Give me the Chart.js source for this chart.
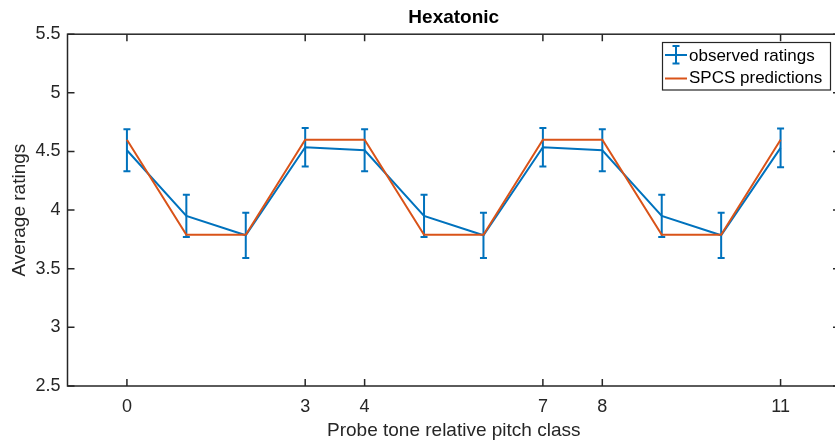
<!DOCTYPE html>
<html>
<head>
<meta charset="utf-8">
<title>Hexatonic</title>
<script src="https://cdn.jsdelivr.net/npm/chart.js@4.4.0/dist/chart.umd.min.js"></script>
<style>
  html, body { margin: 0; padding: 0; background: #fff; overflow: hidden; }
  #wrap { position: relative; width: 842px; height: 445px; }
</style>
</head>
<body>
<div id="wrap"><canvas id="mycanvas"></canvas></div>
<script>
// probe tones and ratings
var pitchClass = [0, 1, 2, 3, 4, 5, 6, 7, 8, 9, 10, 11];
var observed = [4.51, 3.95, 3.785, 4.536, 4.51, 3.95, 3.785, 4.536, 4.51, 3.95, 3.785, 4.531];
var observedErr = [0.179, 0.18, 0.193, 0.165, 0.179, 0.18, 0.193, 0.165, 0.179, 0.18, 0.193, 0.165];
var predicted = [4.6, 3.79, 3.79, 4.6, 4.6, 3.79, 3.79, 4.6, 4.6, 3.79, 3.79, 4.6];
var xTickValues = [0, 3, 4, 7, 8, 11];

var BLUE = "#0072BD";
var ORANGE = "#D95319";
var AXIS = "#262626";
var FONT = "'Liberation Sans', Arial, Helvetica, sans-serif";

function points(ys) {
  var out = [];
  for (var i in ys) {
    out.push({ x: pitchClass[i], y: ys[i] });
  }
  return out;
}

// error bars go right after the observed line so the prediction line sits on top
var errorBars = {
  id: "errorBars",
  afterDatasetDraw: function(chart, args) {
    if (args.index !== 1) return;
    var c = chart.ctx, xs = chart.scales.x, ys = chart.scales.y;
    c.save();
    c.strokeStyle = BLUE;
    c.lineWidth = 2;
    for (var i = 0; i < observed.length; i++) {
      var px = xs.getPixelForValue(pitchClass[i]);
      var top = ys.getPixelForValue(observed[i] + observedErr[i]);
      var bot = ys.getPixelForValue(observed[i] - observedErr[i]);
      c.beginPath();
      c.moveTo(px, top); c.lineTo(px, bot);
      c.moveTo(px - 3.5, top); c.lineTo(px + 3.5, top);
      c.moveTo(px - 3.5, bot); c.lineTo(px + 3.5, bot);
      c.stroke();
    }
    c.restore();
  }
};

// axes box with inward ticks on all four sides
var axesBox = {
  id: "axesBox",
  afterDraw: function(chart) {
    var c = chart.ctx, a = chart.chartArea, xs = chart.scales.x, ys = chart.scales.y;
    var len = 7;
    c.save();
    c.strokeStyle = AXIS;
    c.lineWidth = 1.5;
    c.strokeRect(a.left, a.top, a.right - a.left, a.bottom - a.top);
    c.beginPath();
    xs.ticks.forEach(function(t) {
      var px = xs.getPixelForValue(t.value);
      c.moveTo(px, a.bottom); c.lineTo(px, a.bottom - len);
      c.moveTo(px, a.top); c.lineTo(px, a.top + len);
    });
    ys.ticks.forEach(function(t) {
      var py = ys.getPixelForValue(t.value);
      c.moveTo(a.left, py); c.lineTo(a.left + len, py);
      c.moveTo(a.right, py); c.lineTo(a.right - len, py);
    });
    c.stroke();
    c.restore();
  }
};

// legend box in the upper right corner
var legendBox = {
  id: "legendBox",
  afterDraw: function(chart) {
    var c = chart.ctx;
    var x0 = 662.5, y0 = 42.5, w = 168, h = 47.5;
    c.save();
    c.fillStyle = "#fff";
    c.fillRect(x0, y0, w, h);
    c.strokeStyle = AXIS;
    c.lineWidth = 1.2;
    c.strokeRect(x0, y0, w, h);

    var y1 = 55, y2 = 78.5;
    c.lineWidth = 2;
    c.strokeStyle = BLUE;
    c.beginPath();
    c.moveTo(665, y1); c.lineTo(687, y1);
    c.moveTo(676, y1 - 9); c.lineTo(676, y1 + 8.5);
    c.moveTo(672.5, y1 - 9); c.lineTo(679.5, y1 - 9);
    c.moveTo(672.5, y1 + 8.5); c.lineTo(679.5, y1 + 8.5);
    c.stroke();
    c.strokeStyle = ORANGE;
    c.beginPath();
    c.moveTo(665, y2); c.lineTo(687, y2);
    c.stroke();

    c.fillStyle = "#000";
    c.font = "17px " + FONT;
    c.textAlign = "left";
    c.textBaseline = "middle";
    c.fillText("observed ratings", 689, 56.5);
    c.fillText("SPCS predictions", 689, y2);
    c.restore();
  }
};

var ctx = document.getElementById("mycanvas");

var chartdata = {
  datasets: [
    {
      label: "SPCS predictions",
      data: points(predicted),
      borderColor: ORANGE,
      backgroundColor: ORANGE,
      borderWidth: 2,
      pointRadius: 0,
      fill: false,
      tension: 0
    },
    {
      label: "observed ratings",
      data: points(observed),
      borderColor: BLUE,
      backgroundColor: BLUE,
      borderWidth: 2,
      pointRadius: 0,
      fill: false,
      tension: 0
    }
  ]
};

var LineGraph = new Chart(ctx, {
  type: "line",
  data: chartdata,
  options: {
    responsive: true,
    maintainAspectRatio: false,
    animation: false,
    layout: { padding: { right: 2 } },
    plugins: {
      legend: { display: false },
      tooltip: { enabled: false },
      title: {
        display: true,
        fullSize: false,
        text: "Hexatonic",
        color: "#000",
        font: { family: FONT, size: 19, weight: "bold" },
        padding: { top: 6, bottom: 5.4 }
      }
    },
    scales: {
      x: {
        type: "linear",
        min: -1,
        max: 12,
        grid: { display: false, drawTicks: false },
        border: { display: false },
        afterBuildTicks: function(scale) {
          scale.ticks = xTickValues.map(function(v) { return { value: v }; });
        },
        afterFit: function(scale) { scale.height = 59; },
        ticks: {
          autoSkip: false,
          maxRotation: 0,
          color: AXIS,
          padding: 10,
          font: { family: FONT, size: 18 }
        },
        title: {
          display: true,
          text: "Probe tone relative pitch class",
          color: AXIS,
          font: { family: FONT, size: 19 },
          padding: { top: 0, bottom: 3 }
        }
      },
      y: {
        min: 2.5,
        max: 5.5,
        grid: { display: false, drawTicks: false },
        border: { display: false },
        afterFit: function(scale) { scale.width = 67.5; },
        ticks: {
          stepSize: 0.5,
          color: AXIS,
          padding: 7,
          font: { family: FONT, size: 18 },
          callback: function(v) { return String(Math.round(v * 10) / 10); }
        },
        title: {
          display: true,
          text: "Average ratings",
          color: AXIS,
          font: { family: FONT, size: 19 },
          padding: { top: 8, bottom: 0 }
        }
      }
    }
  },
  plugins: [errorBars, axesBox, legendBox]
});
</script>
</body>
</html>
